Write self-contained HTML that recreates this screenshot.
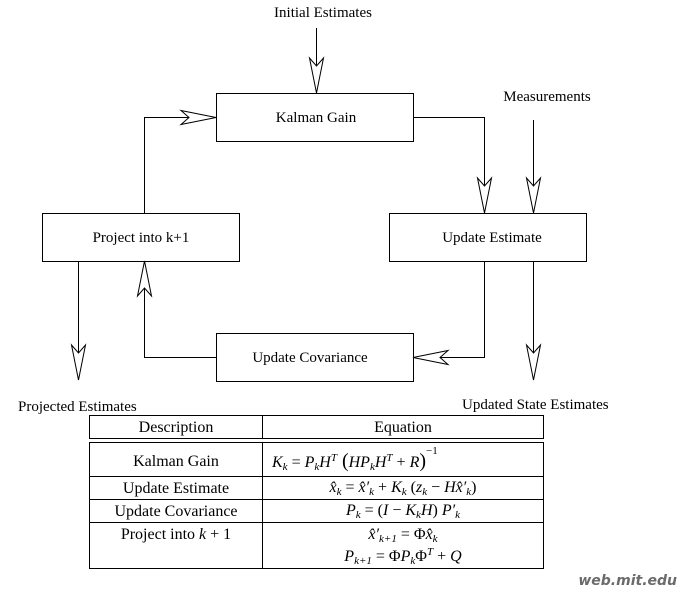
<!DOCTYPE html>
<html><head><meta charset="utf-8"><style>
html,body{margin:0;padding:0;background:#fff;}
body{width:678px;height:591px;position:relative;overflow:hidden;}
svg{position:absolute;left:0;top:0;}
.t{font-family:"Liberation Serif",serif;font-size:15px;fill:#000;}
.m{font-family:"Liberation Serif",serif;font-size:16px;fill:#000;}
.mi{font-family:"Liberation Serif",serif;font-style:italic;font-size:16px;fill:#000;}
</style></head><body>
<svg width="678" height="591" viewBox="0 0 678 591">
<g fill="none" stroke="#000" stroke-width="1">
<rect x="216.5" y="93.5" width="197" height="48"/>
<rect x="42.5" y="213.5" width="197" height="48"/>
<rect x="389.5" y="213.5" width="197" height="48"/>
<rect x="216.5" y="333.5" width="197" height="48"/>
<path d="M316.5 28V93"/>
<path d="M144.5 213V117.5H216"/>
<path d="M413 117.5H484.5V213"/>
<path d="M533.5 120V213"/>
<path d="M484.5 261V357.5H413"/>
<path d="M533.5 261V380"/>
<path d="M78.5 261V380"/>
<path d="M216 357.5H144.5V261"/>
</g>
<g fill="#fff" stroke="#000" stroke-width="1">
<polygon points="316.5,93 309.5,58 316.5,66 323.5,58"/>
<polygon points="216,117.5 181,110.5 189,117.5 181,124.5"/>
<polygon points="484.5,213 477.5,178 484.5,186 491.5,178"/>
<polygon points="533.5,213 526.5,178 533.5,186 540.5,178"/>
<polygon points="413,357.5 448,350.5 440,357.5 448,364.5"/>
<polygon points="533.5,380 526.5,345 533.5,353 540.5,345"/>
<polygon points="78.5,380 71.5,345 78.5,353 85.5,345"/>
<polygon points="144.5,261 137.5,296 144.5,288 151.5,296"/>
</g>
<text class="t" x="323" y="17" text-anchor="middle">Initial Estimates</text>
<text class="t" x="547" y="101" text-anchor="middle">Measurements</text>
<text class="t" x="316" y="122" text-anchor="middle">Kalman Gain</text>
<text class="t" x="141" y="242" text-anchor="middle">Project into k+1</text>
<text class="t" x="492" y="242" text-anchor="middle">Update Estimate</text>
<text class="t" x="310" y="362" text-anchor="middle">Update Covariance</text>
<text class="t" x="18" y="411">Projected Estimates</text>
<text class="t" x="462" y="409">Updated State Estimates</text>
<g fill="none" stroke="#000" stroke-width="1">
<rect x="89.5" y="415.5" width="454" height="23"/>
<path d="M262.5 415.5V438.5"/>
<rect x="89.5" y="442.5" width="454" height="126"/>
<path d="M262.5 442.5V568.5"/>
<path d="M89.5 476.5H543.5M89.5 499.5H543.5M89.5 522.5H543.5"/>
</g>
<g class="m" text-anchor="middle">
<text x="176" y="432">Description</text>
<text x="403" y="432">Equation</text>
<text x="176" y="466">Kalman Gain</text>
<text x="176" y="493">Update Estimate</text>
<text x="176" y="516">Update Covariance</text>
<text x="176" y="539">Project into <tspan font-style="italic">k</tspan> + 1</text>
</g>
<text class="m" x="272" y="467"><tspan font-style="italic">K<tspan font-size="11" dy="3">k</tspan></tspan><tspan dy="-3">  =  </tspan><tspan font-style="italic">P</tspan><tspan font-size="11" font-style="italic" dy="3">k</tspan><tspan dy="-3" font-style="italic">H</tspan><tspan font-size="11" font-style="italic" dy="-6">T</tspan><tspan dy="6" font-size="20"> (</tspan><tspan font-style="italic">HP</tspan><tspan font-size="11" font-style="italic" dy="3">k</tspan><tspan dy="-3" font-style="italic">H</tspan><tspan font-size="11" font-style="italic" dy="-6">T</tspan><tspan dy="6">  +  </tspan><tspan font-style="italic">R</tspan><tspan font-size="20">)</tspan><tspan font-size="11" dy="-13">−1</tspan></text>
<text class="m" x="403" y="492" text-anchor="middle"><tspan font-style="italic">x̂<tspan font-size="11" dy="3">k</tspan></tspan><tspan dy="-3">  =  </tspan><tspan font-style="italic">x̂′<tspan font-size="11" dy="3">k</tspan></tspan><tspan dy="-3">  +  </tspan><tspan font-style="italic">K<tspan font-size="11" dy="3">k</tspan></tspan><tspan dy="-3"> (</tspan><tspan font-style="italic">z<tspan font-size="11" dy="3">k</tspan></tspan><tspan dy="-3">  −  </tspan><tspan font-style="italic">Hx̂′<tspan font-size="11" dy="3">k</tspan></tspan><tspan dy="-3">)</tspan></text>
<text class="m" x="403" y="515" text-anchor="middle"><tspan font-style="italic">P<tspan font-size="11" dy="3">k</tspan></tspan><tspan dy="-3">  =  (</tspan><tspan font-style="italic">I</tspan><tspan>  −  </tspan><tspan font-style="italic">K<tspan font-size="11" dy="3">k</tspan></tspan><tspan dy="-3" font-style="italic">H</tspan><tspan>) </tspan><tspan font-style="italic">P′<tspan font-size="11" dy="3">k</tspan></tspan></text>
<text class="m" x="403" y="539" text-anchor="middle"><tspan font-style="italic">x̂′<tspan font-size="11" dy="3">k+1</tspan></tspan><tspan dy="-3">  =  Φ</tspan><tspan font-style="italic">x̂<tspan font-size="11" dy="3">k</tspan></tspan></text>
<text class="m" x="403" y="561" text-anchor="middle"><tspan font-style="italic">P<tspan font-size="11" dy="3">k+1</tspan></tspan><tspan dy="-3">  =  Φ</tspan><tspan font-style="italic">P<tspan font-size="11" dy="3">k</tspan></tspan><tspan dy="-3">Φ</tspan><tspan font-size="11" font-style="italic" dy="-6">T</tspan><tspan dy="6">  +  </tspan><tspan font-style="italic">Q</tspan></text>
<text x="677" y="585" text-anchor="end" font-family="DejaVu Sans,sans-serif" font-weight="bold" font-style="italic" font-size="14" fill="#6b6b6b">web.mit.edu</text>
</svg>
</body></html>
